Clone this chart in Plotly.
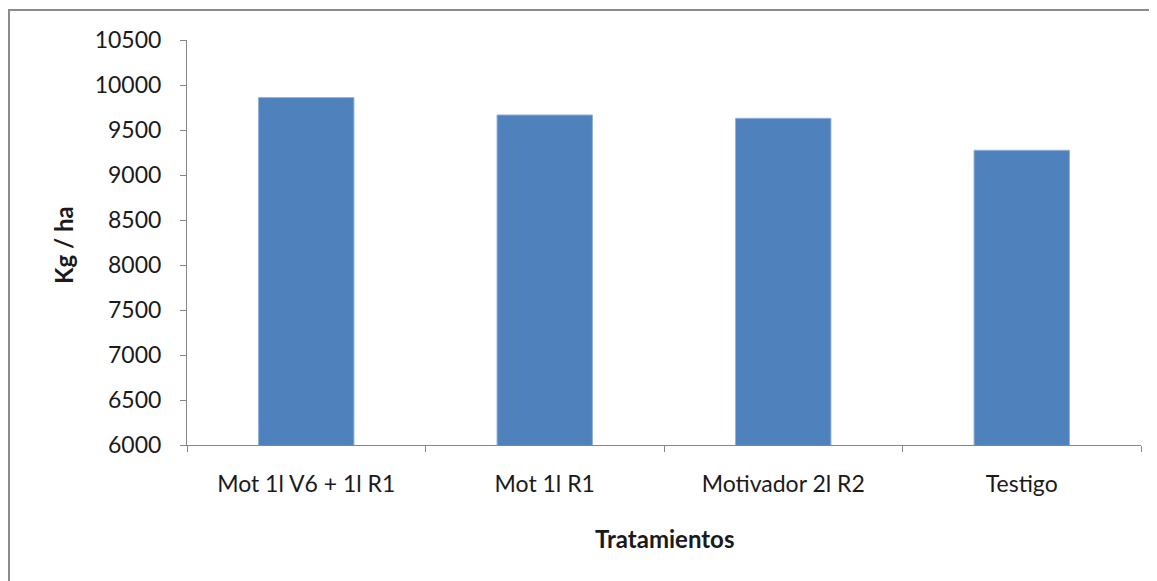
import plotly.graph_objects as go

categories = ["Mot 1l V6 + 1l R1", "Mot 1l R1", "Motivador 2l R2", "Testigo"]
values = [9860, 9667, 9630, 9275]
y_ticks = [6000, 6500, 7000, 7500, 8000, 8500, 9000, 9500, 10000, 10500]
y_tick_labels = [str(v) for v in y_ticks]

# page body has an 8px margin; screen coords = figure coords + 8
OFF = 8
W, H = 1149, 573
L, T = 179, 32
pw, ph = 954, 405
R, B = W - L - pw, H - T - ph

def px_x(sx):
    return (sx - OFF - L) / pw

def px_y(sy):
    return (T + ph - (sy - OFF)) / ph

FONT = "Lato"

fig = go.Figure(go.Bar(
    x=categories, y=values, width=0.4,
    marker=dict(color="#4f81bd", line=dict(color="#8fb0d8", width=1)),
))

fig.update_layout(
    width=W, height=H,
    margin=dict(l=L, r=R, t=T, b=B),
    paper_bgcolor="white", plot_bgcolor="white",
    showlegend=False,
    font=dict(family=FONT, size=23, color="#1a1a1a"),
    xaxis=dict(
        type="category", showgrid=False, showline=True, linecolor="#868686", linewidth=1,
        ticks="outside", ticklen=6, tickcolor="#868686", tickson="boundaries",
        ticklabelstandoff=18, tickfont=dict(size=23),
    ),
    yaxis=dict(
        range=[6000, 10500], tickvals=y_ticks, ticktext=y_tick_labels,
        showgrid=False, zeroline=False,
        showline=True, linecolor="#868686", linewidth=1,
        ticks="outside", ticklen=6, tickcolor="#868686",
        ticklabelstandoff=14, tickfont=dict(size=23),
    ),
    shapes=[dict(type="rect", xref="paper", yref="paper",
                 x0=px_x(9), x1=px_x(1200), y0=px_y(10), y1=px_y(620),
                 line=dict(color="#8c8c8c", width=2), fillcolor="rgba(0,0,0,0)")],
    annotations=[
        dict(text="<b>Kg / ha</b>", textangle=-90, xref="paper", yref="paper",
             x=px_x(63), y=px_y(245), xanchor="center", yanchor="middle",
             showarrow=False, font=dict(size=24, family=FONT)),
        dict(text="<b>Tratamientos</b>", xref="paper", yref="paper",
             x=px_x(664), y=px_y(538), xanchor="center", yanchor="middle",
             showarrow=False, font=dict(size=24, family=FONT)),
    ],
)

fig.write_html("out.html")
